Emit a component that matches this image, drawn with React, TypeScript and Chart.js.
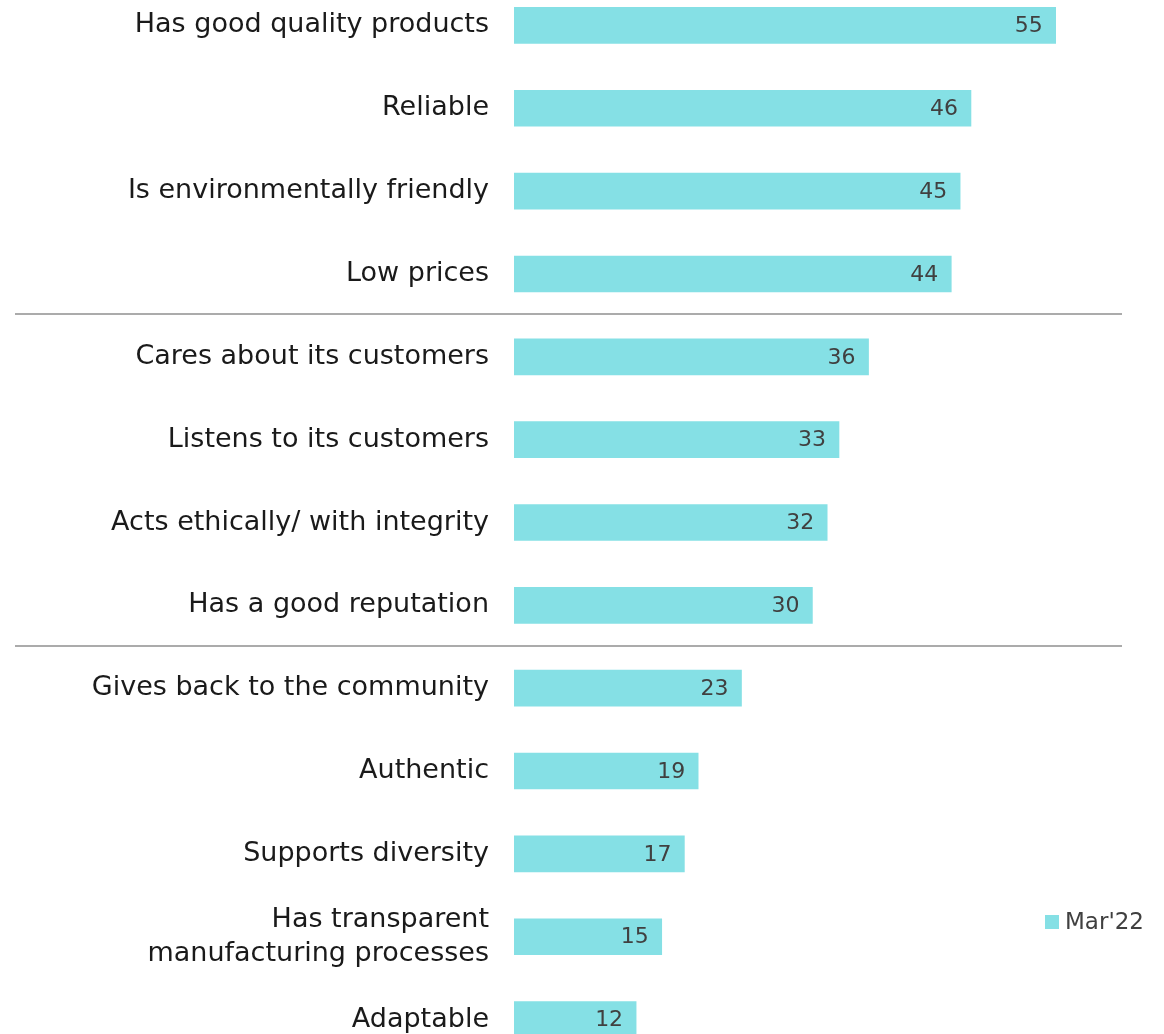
import React, { useEffect, useRef } from "react";
import { Chart, registerables } from "chart.js";

Chart.register(...registerables);

const categories: (string | string[])[] = [
  "Has good quality products",
  "Reliable",
  "Is environmentally friendly",
  "Low prices",
  "Cares about its customers",
  "Listens to its customers",
  "Acts ethically/ with integrity",
  "Has a good reputation",
  "Gives back to the community",
  "Authentic",
  "Supports diversity",
  ["Has transparent", "manufacturing processes"],
  "Adaptable",
];

const seriesName = "Mar'22";
const values = [55.0, 46.4, 45.3, 44.4, 36.0, 33.0, 31.8, 30.3, 23.1, 18.7, 17.3, 15.0, 12.4];
const groupBreaksAfter = [3, 7];

const BAR_COLOR = "#85E0E5";
const FONT = "'DejaVu Sans', sans-serif";

export default function App() {
  const ref = useRef<HTMLCanvasElement | null>(null);

  useEffect(() => {
    if (!ref.current) return;

    const valueLabels = {
      id: "valueLabels",
      afterDatasetsDraw(chart: any) {
        const ctx = chart.ctx;
        const meta = chart.getDatasetMeta(0);
        ctx.save();
        ctx.font = `22px ${FONT}`;
        ctx.fillStyle = "#404040";
        ctx.textAlign = "right";
        ctx.textBaseline = "middle";
        meta.data.forEach((bar: any, i: number) => {
          ctx.fillText(String(Math.round(values[i])), bar.x - 13, bar.y + 1);
        });
        ctx.restore();
      },
    };

    const separators = {
      id: "separators",
      afterDraw(chart: any) {
        const ctx = chart.ctx;
        const y = chart.scales.y;
        ctx.save();
        ctx.strokeStyle = "#ABABAB";
        ctx.lineWidth = 2;
        groupBreaksAfter.forEach((idx) => {
          const py = Math.round(y.getPixelForValue(idx + 0.5)) - 1;
          ctx.beginPath();
          ctx.moveTo(15, py);
          ctx.lineTo(1122, py);
          ctx.stroke();
        });
        ctx.restore();
      },
    };

    const legendPlugin = {
      id: "customLegend",
      afterDraw(chart: any) {
        const ctx = chart.ctx;
        ctx.save();
        ctx.fillStyle = BAR_COLOR;
        ctx.fillRect(1045, 931, 14, 14);
        ctx.font = `23px ${FONT}`;
        ctx.fillStyle = "#404040";
        ctx.textAlign = "left";
        ctx.textBaseline = "middle";
        ctx.fillText(seriesName, 1065, 939);
        ctx.restore();
      },
    };

    const chart = new Chart(ref.current, {
      type: "bar",
      data: {
        labels: categories,
        datasets: [
          {
            label: seriesName,
            data: values,
            backgroundColor: BAR_COLOR,
            barThickness: 36,
          },
        ],
      },
      options: {
        indexAxis: "y",
        responsive: false,
        animation: false,
        layout: { padding: 0 },
        plugins: {
          legend: { display: false },
          tooltip: { enabled: false },
        },
        scales: {
          x: { display: false, min: 0, max: 66 },
          y: {
            position: "left",
            grid: { display: false, drawTicks: false, tickLength: 0 },
            border: { display: false },
            ticks: {
              padding: 25,
              color: "#1A1A1A",
              font: { family: FONT, size: 27, lineHeight: 1.26 },
            },
            afterFit(s: any) {
              s.width = 514;
              s.paddingTop = 0;
              s.paddingBottom = 0;
            },
          },
        },
      },
      plugins: [valueLabels, separators, legendPlugin],
    } as any);

    return () => chart.destroy();
  }, []);

  return (
    <div
      style={{
        position: "fixed",
        left: 0,
        top: -16,
        width: 1164,
        height: 1077,
        background: "#ffffff",
      }}
    >
      <canvas ref={ref} width={1164} height={1077} style={{ display: "block" }} />
    </div>
  );
}
